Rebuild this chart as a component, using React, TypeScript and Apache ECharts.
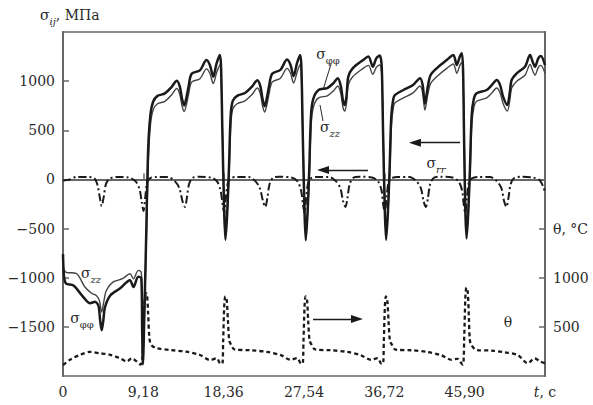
import React, { useEffect, useRef } from 'react';
import * as echarts from 'echarts';

const FONT = '"DejaVu Serif", "Liberation Serif", serif';
const INK = '#2a2a2a';
const AXIS = '#666';

// time ticks (s) and stress / temperature tick values
const timeTicks = [0, 9.18, 18.36, 27.54, 36.72, 45.9];
const timeMax = 55.08;
const stressTicks = [-1500, -1000, -500, 0, 500, 1000];
const tempTicks = [500, 1000, 1500];

// σφφ, MPa  [t, value]
const sigmaPhi = [
  [0, -760], [0.12, -990], [0.35, -1060], [1.2, -1080], [2.3, -1195], [3.1, -1260], [3.65, -1245], [4.05, -1285], [4.25, -1440], [4.42, -1535], [4.6, -1440], [4.8, -1300], [5.4, -1180], [6.5, -1110], [7.65, -1025], [8.05, -1095], [8.6, -990], [8.95, -1005], [9.05, -1550], [9.13, -1880], [9.3, -1350], [9.5, -600], [9.73, 300], [9.98, 650], [10.3, 790],
  [10.8, 850], [11.65, 875], [12.4, 940], [13.0, 1005], [13.35, 945], [13.6, 820], [13.85, 752], [14.1, 830], [14.35, 945], [14.7, 1075], [15.65, 1110], [16.4, 1215], [16.8, 1160], [17.17, 1045], [17.55, 1180], [17.93, 1265], [18.06, 1150], [18.21, 500], [18.41, -300], [18.56, -615], [18.76, -350], [18.96, 100], [19.16, 650], [19.4, 800],
  [19.9, 850], [20.8, 880], [21.6, 945], [22.2, 1010], [22.55, 950], [22.8, 820], [23.05, 745], [23.3, 830], [23.55, 950], [23.9, 1075], [24.85, 1115], [25.6, 1220], [26.0, 1165], [26.35, 1050], [26.75, 1185], [27.1, 1265], [27.24, 1150], [27.39, 500], [27.59, -300], [27.74, -620], [27.94, -350], [28.14, 100], [28.34, 650], [28.6, 820],
  [29.2, 910], [30.2, 930], [30.9, 980], [31.4, 1030], [31.75, 950], [32.0, 800], [32.2, 757], [32.4, 850], [32.6, 1045], [33.1, 1130], [34.3, 1215], [34.9, 1250], [35.4, 1147], [35.8, 1232], [36.2, 1260], [36.42, 1150], [36.57, 500], [36.77, -300], [36.92, -615], [37.12, -350], [37.32, 100], [37.52, 650], [37.75, 820],
  [37.95, 860], [38.9, 910], [40.0, 960], [40.8, 1030], [41.1, 960], [41.35, 770], [41.7, 950], [42.0, 1060], [42.7, 1130], [43.85, 1215], [44.6, 1266], [45.0, 1164], [45.35, 1250], [45.58, 1283], [45.72, 1100], [45.82, 500], [45.97, -300], [46.12, -600], [46.3, -350], [46.5, 100], [46.7, 650], [46.95, 820],
  [47.27, 876], [48.42, 910], [49.0, 960], [49.56, 1012], [49.95, 960], [50.3, 840], [50.77, 757], [51.05, 880], [51.27, 1012], [51.85, 1080], [52.79, 1147], [53.37, 1266], [53.7, 1190], [53.94, 1147], [54.31, 1232], [54.6, 1255], [55.08, 1164],
];

// σzz, MPa
const sigmaZ = [
  [0, -900], [0.35, -945], [1.5, -955], [2.5, -1095], [3.3, -1160], [3.8, -1180], [4.15, -1230], [4.42, -1350], [4.65, -1250], [4.95, -1130], [5.7, -1045], [6.8, -1010], [7.65, -960], [8.05, -1010], [8.6, -925], [8.95, -945], [9.05, -1400], [9.15, -1700], [9.32, -1300], [9.52, -650], [9.76, 200], [10.0, 560], [10.32, 710],
  [10.8, 770], [11.65, 795], [12.4, 860], [13.0, 925], [13.35, 865], [13.6, 750], [13.85, 690], [14.1, 760], [14.35, 865], [14.7, 990], [15.65, 1025], [16.4, 1125], [16.8, 1075], [17.17, 975], [17.55, 1085], [17.93, 1165], [18.06, 1060], [18.23, 450], [18.43, -280], [18.58, -570], [18.78, -330], [18.98, 60], [19.18, 560], [19.42, 720],
  [19.9, 770], [20.8, 800], [21.6, 865], [22.2, 930], [22.55, 870], [22.8, 750], [23.05, 685], [23.3, 760], [23.55, 870], [23.9, 990], [24.85, 1030], [25.6, 1130], [26.0, 1080], [26.35, 980], [26.75, 1090], [27.1, 1170], [27.24, 1060], [27.41, 450], [27.61, -280], [27.76, -575], [27.96, -330], [28.16, 60], [28.36, 560], [28.62, 740],
  [29.2, 830], [30.2, 850], [30.9, 900], [31.4, 950], [31.75, 870], [32.0, 730], [32.2, 695], [32.4, 780], [32.6, 960], [33.1, 1045], [34.3, 1130], [34.9, 1160], [35.4, 1070], [35.8, 1140], [36.2, 1165], [36.42, 1060], [36.59, 450], [36.79, -280], [36.94, -570], [37.14, -330], [37.34, 60], [37.54, 560], [37.77, 740],
  [37.95, 780], [38.9, 830], [40.0, 880], [40.8, 950], [41.1, 880], [41.35, 705], [41.7, 870], [42.0, 975], [42.7, 1045], [43.85, 1130], [44.6, 1175], [45.0, 1080], [45.35, 1160], [45.58, 1190], [45.72, 1020], [45.84, 450], [45.99, -280], [46.14, -560], [46.32, -330], [46.52, 60], [46.72, 560], [46.97, 740],
  [47.27, 795], [48.42, 830], [49.0, 880], [49.56, 930], [49.95, 880], [50.3, 770], [50.77, 695], [51.05, 800], [51.27, 930], [51.85, 1000], [52.79, 1060], [53.37, 1170], [53.7, 1100], [53.94, 1060], [54.31, 1140], [54.6, 1160], [55.08, 1080],
];

// σrr, MPa
const sigmaR = [
  [0, -10], [0.8, 0], [1.5, 25], [3.0, 25], [3.6, 10], [3.95, -60], [4.2, -180], [4.42, -270], [4.65, -180], [4.9, -50], [5.3, 5], [6.0, 25], [7.5, 20], [8.3, -20], [8.75, -100], [9.0, -230], [9.2, -320], [9.4, -180], [9.6, -40], [9.9, 10],
  [10.6, 25], [12.0, 25], [12.8, -20], [13.3, -90], [13.65, -220], [13.94, -280], [14.15, -190], [14.4, -50], [14.8, 15], [15.5, 27], [16.9, 20], [17.6, -20], [18.0, -110], [18.25, -260], [18.42, -340], [18.62, -180], [18.82, -40], [19.1, 10],
  [19.8, 25], [21.2, 25], [22.0, -20], [22.5, -90], [22.85, -220], [23.12, -280], [23.35, -190], [23.6, -50], [24.0, 15], [24.7, 27], [26.1, 20], [26.8, -20], [27.2, -110], [27.43, -260], [27.6, -340], [27.8, -180], [28.0, -40], [28.3, 10],
  [29.0, 25], [30.4, 25], [31.2, -20], [31.7, -90], [32.0, -220], [32.28, -280], [32.5, -190], [32.75, -50], [33.15, 15], [33.9, 27], [35.3, 20], [36.0, -20], [36.4, -110], [36.6, -260], [36.78, -340], [36.98, -180], [37.18, -40], [37.5, 10],
  [38.2, 25], [39.6, 25], [40.4, -20], [40.9, -90], [41.2, -220], [41.47, -280], [41.7, -190], [41.95, -50], [42.35, 15], [43.1, 27], [44.5, 20], [45.2, -20], [45.6, -110], [45.8, -260], [45.96, -340], [46.16, -180], [46.36, -40], [46.7, 10],
  [47.4, 25], [48.8, 25], [49.6, -20], [50.1, -90], [50.4, -220], [50.67, -280], [50.9, -190], [51.15, -50], [51.55, 15], [52.3, 27], [53.7, 20], [54.5, -10], [54.9, -80], [55.08, -130],
];

// θ, °C
const theta = [
  [0, 110], [0.8, 165], [1.95, 215], [3.1, 245], [4.2, 232], [5.4, 215], [6.5, 182], [7.28, 148], [7.85, 180], [8.42, 148], [8.85, 115], [9.05, 160], [9.2, 450], [9.35, 800], [9.55, 840], [9.72, 650], [9.88, 380], [10.1, 315], [10.7, 282],
  [12.2, 265], [14.1, 247], [15.65, 214], [16.8, 163], [17.56, 180], [17.94, 130], [18.2, 125], [18.3, 350], [18.42, 700], [18.55, 810], [18.7, 780], [18.85, 560], [19.0, 360], [19.2, 320], [19.6, 270],
  [21.4, 262], [23.3, 245], [24.9, 212], [26.0, 165], [26.75, 182], [27.15, 130], [27.38, 125], [27.48, 350], [27.6, 700], [27.72, 810], [27.88, 780], [28.02, 560], [28.18, 360], [28.4, 320], [28.8, 270],
  [30.6, 262], [32.5, 245], [34.0, 212], [35.2, 165], [35.95, 182], [36.32, 130], [36.56, 125], [36.66, 350], [36.78, 700], [36.9, 810], [37.05, 780], [37.2, 560], [37.36, 360], [37.58, 320], [38.0, 268],
  [39.8, 262], [41.6, 245], [43.2, 212], [44.4, 165], [45.1, 175], [45.37, 146], [45.7, 115], [45.85, 400], [45.98, 800], [46.1, 900], [46.25, 860], [46.38, 600], [46.5, 360], [46.7, 310], [47.27, 265],
  [49.0, 258], [50.5, 240], [52.0, 212], [53.1, 130], [53.9, 180], [54.5, 150], [55.08, 130],
];

// direction arrows [start, end] in (t, σ)
const arrows = [
  [[45.37, 374], [40.22, 374]],
  [[34.85, 96], [29.71, 96]],
  [[28.57, -1420], [33.6, -1420]],
];

const labelStyle = { fill: INK, fontFamily: FONT };

function sigmaLabel(x: number, y: number, sub: string, italicSub: boolean) {
  return {
    type: 'text',
    x,
    y,
    style: {
      text: `{s|σ}{b|${sub}}`,
      align: 'center',
      verticalAlign: 'middle',
      rich: {
        s: { ...labelStyle, fontSize: 14, lineHeight: 18, verticalAlign: 'top' },
        b: { ...labelStyle, fontSize: 10, fontStyle: italicSub ? 'italic' : 'normal', lineHeight: 18, verticalAlign: 'bottom', padding: [6, 0, 0, 0] },
      },
    },
  };
}

export default function App() {
  const ref = useRef<HTMLDivElement>(null);
  useEffect(() => {
    const chart = echarts.init(ref.current!, null, { renderer: 'svg' });
    const axisLabelBase = { fontFamily: FONT, fontSize: 14, color: INK };
    const option: any = {
      animation: false,
      backgroundColor: '#fff',
      grid: { left: 63, right: 48, top: 32, bottom: 29, show: true, borderColor: AXIS, borderWidth: 1.5, outerBoundsMode: 'none' },
      xAxis: {
        type: 'value',
        min: 0,
        max: timeMax,
        splitLine: { show: false },
        axisLine: { lineStyle: { color: AXIS, width: 2 } },
        axisTick: { inside: true, length: 6, customValues: timeTicks.slice(1), lineStyle: { color: AXIS, width: 1.5 } },
        axisLabel: {
          ...axisLabelBase,
          margin: 9,
          customValues: [...timeTicks, timeMax],
          formatter: (v: number) =>
            Math.abs(v - timeMax) < 1e-6 ? '{i|t}, с' : v === 0 ? '0' : v.toFixed(2).replace('.', ','),
          rich: { i: { ...axisLabelBase, fontStyle: 'italic' } },
        },
      },
      yAxis: [
        {
          type: 'value',
          min: -2000,
          max: 1500,
          interval: 500,
          splitLine: { show: false },
          axisLine: { show: true, lineStyle: { color: AXIS, width: 2 } },
          axisTick: { show: true, inside: true, length: 6, customValues: stressTicks, lineStyle: { color: AXIS, width: 1.5 } },
          axisLabel: {
            ...axisLabelBase,
            margin: 8,
            customValues: stressTicks,
            formatter: (v: number) => (v < 0 ? '\u2212' + Math.abs(v) : String(v)),
          },
        },
        {
          type: 'value',
          position: 'right',
          min: 0,
          max: 3500,
          interval: 500,
          splitLine: { show: false },
          axisLine: { show: true, lineStyle: { color: AXIS, width: 2 } },
          axisTick: { show: true, inside: true, length: 6, customValues: tempTicks, lineStyle: { color: AXIS, width: 1.5 } },
          axisLabel: {
            ...axisLabelBase,
            margin: 8,
            customValues: tempTicks,
            formatter: (v: number) => (v === 1500 ? 'θ, °C' : String(v)),
          },
        },
      ],
      series: [
        {
          name: 'σzz',
          type: 'line',
          data: sigmaZ,
          yAxisIndex: 0,
          showSymbol: false,
          smooth: 0.3,
          lineStyle: { color: '#444', width: 1.4 },
        },
        {
          name: 'σφφ',
          type: 'line',
          data: sigmaPhi,
          yAxisIndex: 0,
          showSymbol: false,
          smooth: 0.3,
          lineStyle: { color: '#1a1a1a', width: 2.5 },
        },
        {
          name: 'σrr',
          type: 'line',
          data: sigmaR,
          yAxisIndex: 0,
          showSymbol: false,
          smooth: 0.3,
          lineStyle: { color: '#1a1a1a', width: 2, type: [8, 3, 2, 3] },
          markLine: {
            silent: true,
            symbol: ['none', 'triangle'],
            symbolSize: [8, 12],
            label: { show: false },
            lineStyle: { color: '#1a1a1a', width: 1.3, type: 'solid' },
            data: arrows.map(([a, b]) => [{ coord: a }, { coord: b }]),
          },
        },
        {
          name: 'θ',
          type: 'line',
          data: theta,
          yAxisIndex: 1,
          showSymbol: false,
          smooth: 0.3,
          lineStyle: { color: '#1a1a1a', width: 2.3, type: [4, 3] },
        },
      ],
      graphic: [
        {
          type: 'text',
          x: 40,
          y: 17,
          style: {
            text: '{s|σ}{b|ij}{s|, МПа}',
            verticalAlign: 'middle',
            rich: {
              s: { ...labelStyle, fontSize: 14, lineHeight: 18, verticalAlign: 'top' },
              b: { ...labelStyle, fontSize: 10, fontStyle: 'italic', lineHeight: 18, verticalAlign: 'bottom', padding: [6, 0, 0, 0] },
            },
          },
        },
        sigmaLabel(328, 56, 'φφ', false),
        sigmaLabel(330, 129, 'zz', true),
        sigmaLabel(436, 165, 'rr', true),
        sigmaLabel(91, 275, 'zz', true),
        sigmaLabel(82, 320, 'φφ', false),
        { type: 'line', shape: { x1: 331, y1: 64, x2: 323, y2: 90 }, style: { stroke: INK, lineWidth: 1 } },
        { type: 'line', shape: { x1: 323, y1: 121, x2: 320, y2: 105 }, style: { stroke: INK, lineWidth: 1 } },
        {
          type: 'text',
          x: 508,
          y: 322,
          style: { text: 'θ', fontSize: 14, fontFamily: FONT, fill: INK, align: 'center', verticalAlign: 'middle' },
        },
      ],
    };
    chart.setOption(option);
    return () => chart.dispose();
  }, []);
  return (
    <div
      ref={ref}
      style={{ position: 'fixed', left: 0, top: 0, width: 593, height: 405, background: '#fff' }}
    />
  );
}
